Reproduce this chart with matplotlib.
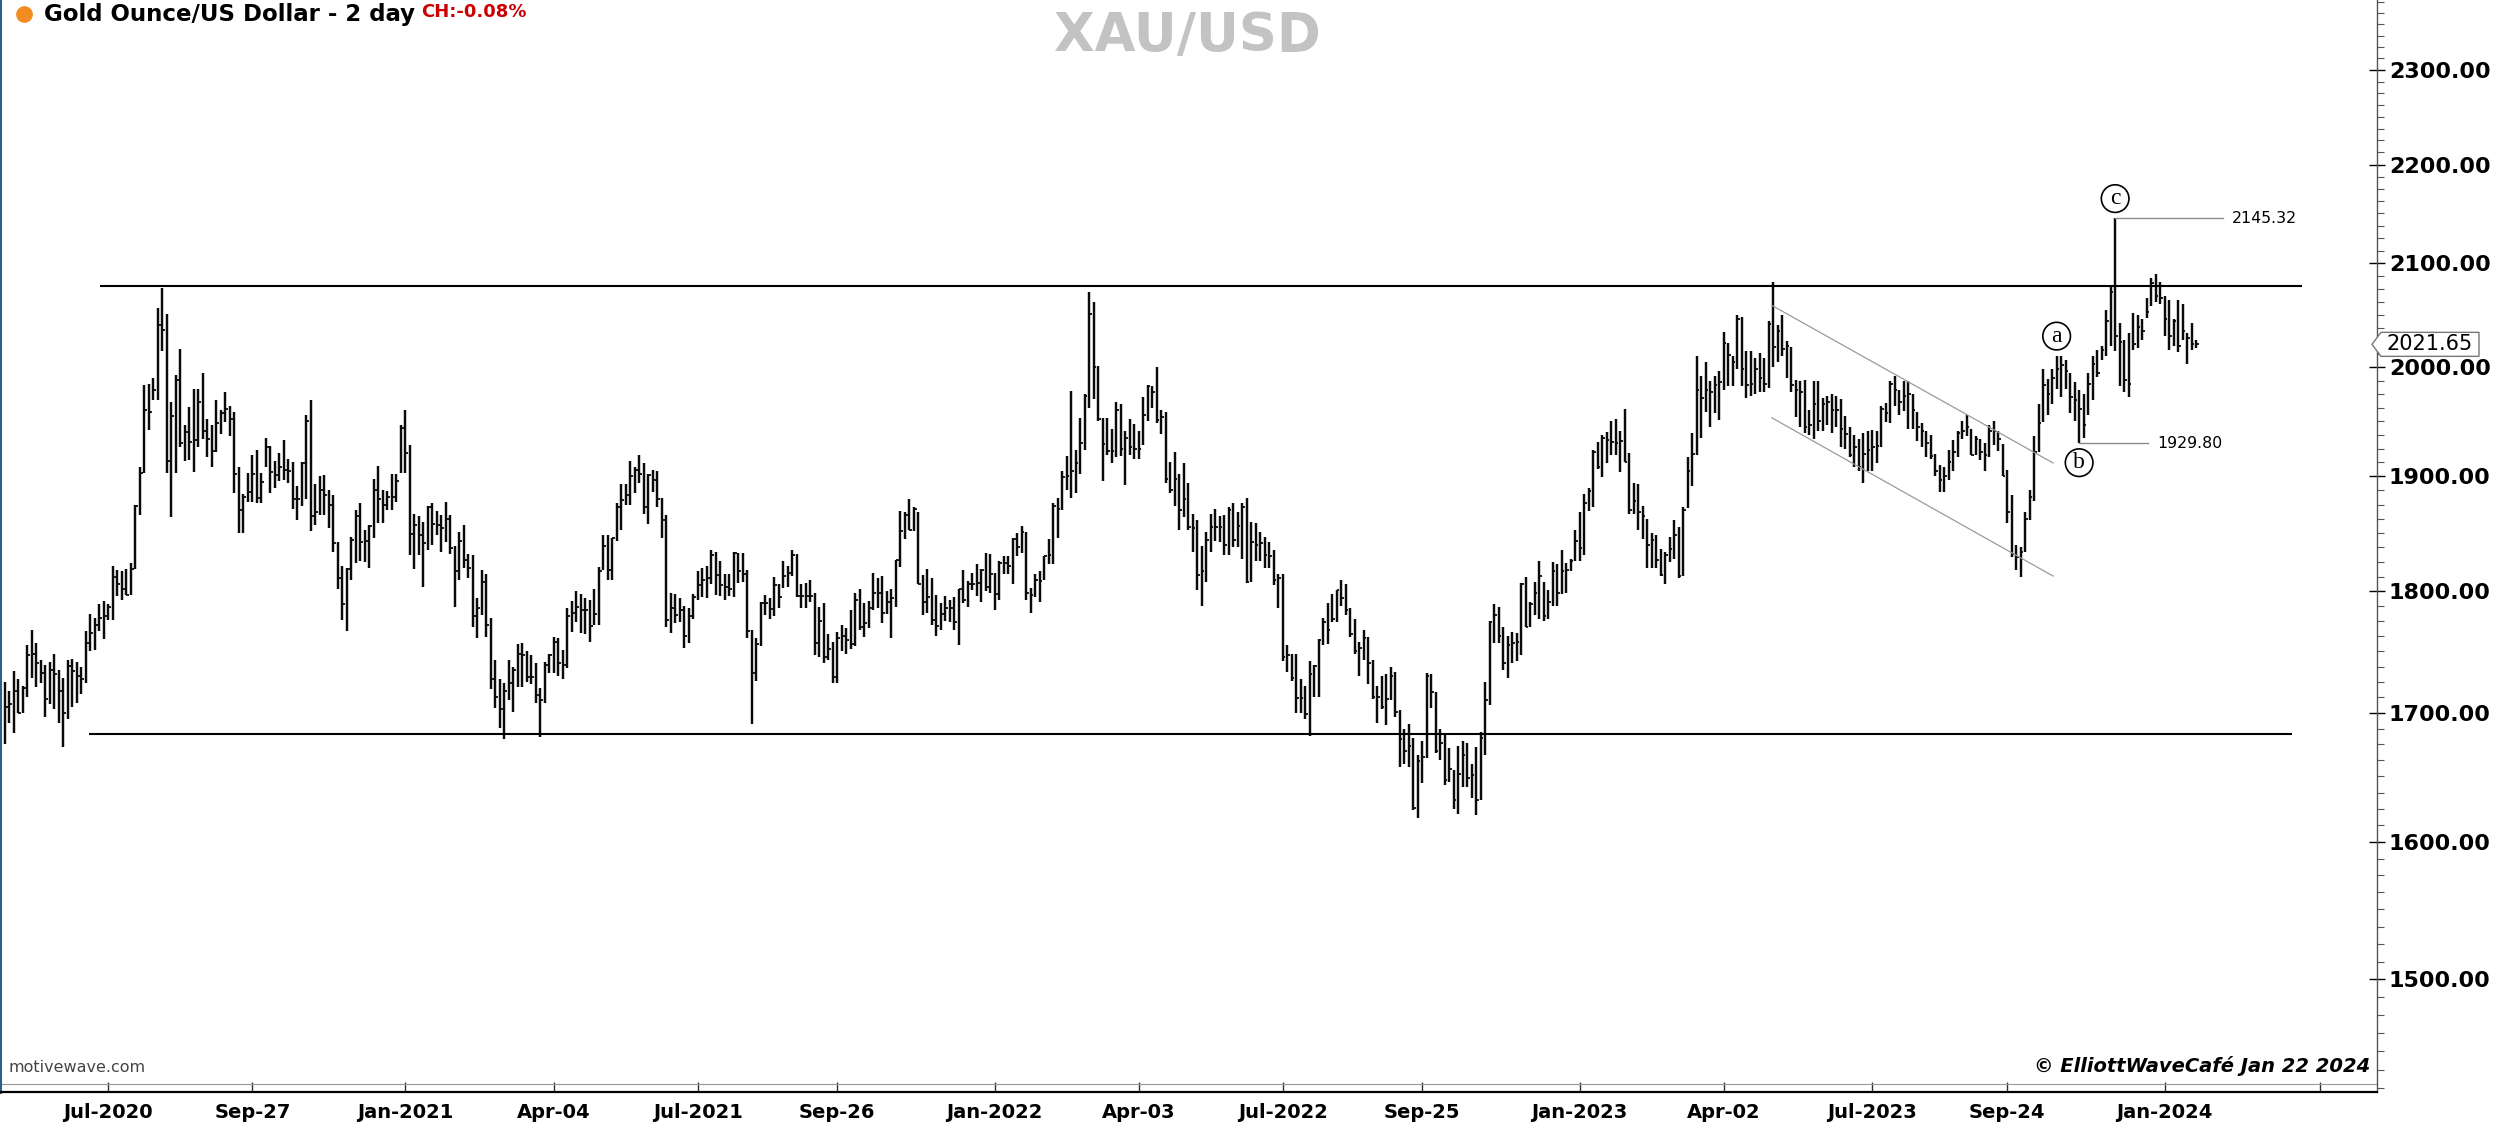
import numpy as np
import pandas as pd
import matplotlib
matplotlib.use('Agg')
import matplotlib.pyplot as plt
import matplotlib.transforms as mtransforms
from matplotlib.ticker import FixedLocator, NullFormatter, FuncFormatter
from matplotlib.lines import Line2D
from matplotlib.patches import Polygon

plt.rcParams['font.family'] = ['DejaVu Sans']

# ---- Data: XAU/USD 2-day bars (high / low / close), last bar 2024-01-22 ----
last_date = '2024-01-22'

highs = [
    1725, 1718, 1734, 1727, 1722, 1755, 1768, 1757, 1743, 1739, 1741, 1748, 1735, 1728, 1743, 1744, 1741, 1737, 1767, 1781,
    1778, 1789, 1792, 1789, 1822, 1818, 1817, 1819, 1824, 1875, 1908, 1983, 1984, 1990, 2056, 2076, 2051, 1968, 1993, 2017,
    1946, 1963, 1980, 1980, 1995, 1952, 1946, 1969, 1960, 1977, 1964, 1958, 1908,
    1884, 1903, 1919, 1924, 1903, 1935, 1927, 1914, 1921, 1933, 1916, 1913, 1891, 1913, 1956, 1969, 1893, 1900, 1901, 1888,
    1883, 1842, 1822, 1820, 1847, 1870, 1876, 1853, 1857, 1898, 1909, 1888, 1887, 1902, 1902, 1946, 1960, 1928, 1867, 1865,
    1860, 1874, 1876, 1869, 1866, 1877, 1866, 1839, 1851, 1857,
    1832, 1831, 1794, 1818, 1815, 1778, 1743, 1727, 1724, 1743, 1737, 1756, 1757, 1750, 1747, 1740, 1720, 1741, 1748, 1762,
    1761, 1751, 1786, 1792, 1800, 1798, 1794, 1793, 1802, 1821, 1848, 1848, 1846, 1876, 1893, 1893, 1914, 1908, 1919, 1912,
    1902, 1906, 1905, 1881, 1866, 1799, 1798, 1794, 1788, 1786, 1798,
    1817, 1820, 1822, 1835, 1834, 1826, 1815, 1815, 1834, 1833, 1833, 1818, 1768, 1761, 1791, 1797, 1794, 1812, 1806, 1826,
    1822, 1835, 1832, 1806, 1807, 1810, 1799, 1787, 1790, 1764, 1758, 1766, 1772, 1769, 1784, 1799, 1802, 1790, 1792, 1816,
    1811, 1813, 1800, 1802, 1827, 1869, 1868, 1880, 1873, 1868,
    1814, 1819, 1811, 1797, 1790, 1796, 1793, 1795, 1802, 1818, 1809, 1816, 1823, 1819, 1833, 1832, 1816, 1826, 1830, 1830,
    1846, 1850, 1856, 1851, 1803, 1815, 1817, 1830, 1845, 1876, 1881, 1905, 1918, 1978, 1924, 1953, 1975, 2072, 2062, 2001,
    1953, 1953, 1943, 1968, 1966, 1941, 1952, 1947, 1941, 1972, 1983, 1982,
    2000, 1960, 1958, 1913, 1922, 1902, 1912, 1894, 1867, 1861, 1839, 1851, 1867, 1871, 1865, 1866, 1873, 1876, 1868, 1876,
    1881, 1860, 1859, 1851, 1847, 1842, 1835, 1815, 1815, 1755, 1748, 1748, 1727, 1722, 1742, 1739, 1760, 1778, 1790, 1798,
    1801, 1810, 1806, 1786, 1777, 1758, 1768, 1762, 1743, 1722, 1730,
    1731, 1737, 1733, 1702, 1687, 1691, 1680, 1667, 1678, 1732, 1731, 1717, 1687, 1684, 1672, 1655, 1674, 1678, 1676, 1660,
    1673, 1685, 1725, 1775, 1789, 1787, 1770, 1763, 1766, 1765, 1807, 1812, 1791, 1808, 1826, 1808, 1801, 1825, 1823, 1835,
    1824, 1828, 1853, 1868, 1884, 1890, 1924, 1931, 1937, 1940, 1950,
    1952, 1941, 1961, 1921, 1894, 1893, 1874, 1862, 1850, 1848, 1836, 1834, 1847, 1861, 1855, 1873, 1917, 1939, 2011, 1992,
    2005, 1987, 1992, 1996, 2033, 2023, 2011, 2050, 2048, 2015, 2015, 2009, 2013, 2009, 2044, 2082, 2040, 2050, 2025, 2019,
    1988, 1987, 1988, 1960, 1987, 1987, 1971, 1973, 1975, 1973, 1970,
    1955, 1945, 1937, 1934, 1939, 1941, 1942, 1941, 1964, 1967, 1987, 1992, 1979, 1987, 1987, 1975, 1958, 1948, 1941, 1937,
    1920, 1910, 1908, 1924, 1933, 1941, 1950, 1956, 1943, 1936, 1934, 1930, 1946, 1950, 1941, 1929, 1906, 1883, 1840, 1838,
    1868, 1888, 1936, 1966, 1998, 1989, 1998, 2011, 2011, 2007,
    1995, 1986, 1979, 1975, 1995, 2011, 2016, 2020, 2055, 2078, 2145.32, 2042, 2026, 2032, 2052, 2050, 2046, 2066, 2086, 2090,
    2082, 2068, 2064, 2046, 2064, 2060, 2032, 2042, 2026,
]

lows = [
    1675, 1692, 1684, 1700, 1700, 1713, 1728, 1721, 1724, 1697, 1707, 1703, 1692, 1673, 1695, 1705, 1708, 1715, 1724, 1750,
    1751, 1767, 1760, 1776, 1776, 1796, 1793, 1797, 1797, 1819, 1866, 1903, 1942, 1969, 1969, 2015, 1903, 1864, 1903, 1926,
    1914, 1915, 1904, 1926, 1934, 1917, 1908, 1922, 1938, 1949, 1936, 1885, 1850,
    1850, 1877, 1877, 1876, 1876, 1908, 1885, 1890, 1896, 1897, 1894, 1871, 1861, 1874, 1880, 1852, 1857, 1866, 1866, 1854,
    1834, 1802, 1776, 1767, 1810, 1824, 1826, 1825, 1820, 1846, 1859, 1859, 1870, 1870, 1877, 1903, 1903, 1831, 1819, 1831,
    1804, 1835, 1840, 1848, 1834, 1842, 1832, 1787, 1810, 1820,
    1811, 1770, 1761, 1780, 1762, 1719, 1704, 1688, 1679, 1710, 1701, 1721, 1721, 1725, 1723, 1708, 1681, 1708, 1732, 1732,
    1730, 1727, 1736, 1766, 1774, 1765, 1764, 1758, 1772, 1772, 1818, 1810, 1810, 1843, 1853, 1875, 1875, 1885, 1894, 1867,
    1858, 1886, 1873, 1846, 1770, 1765, 1773, 1774, 1753, 1757, 1777,
    1793, 1795, 1794, 1806, 1797, 1796, 1793, 1796, 1795, 1807, 1808, 1761, 1691, 1726, 1754, 1780, 1777, 1779, 1786, 1803,
    1804, 1813, 1795, 1786, 1786, 1791, 1747, 1745, 1740, 1743, 1724, 1724, 1750, 1748, 1752, 1754, 1768, 1762, 1769, 1784,
    1786, 1773, 1781, 1761, 1787, 1821, 1845, 1853, 1852, 1806,
    1780, 1782, 1772, 1763, 1768, 1775, 1774, 1768, 1755, 1790, 1787, 1801, 1796, 1791, 1800, 1799, 1784, 1793, 1815, 1815,
    1806, 1830, 1833, 1793, 1782, 1795, 1791, 1810, 1823, 1823, 1846, 1870, 1888, 1881, 1885, 1902, 1924, 1962, 1970, 1950,
    1896, 1919, 1912, 1917, 1918, 1892, 1919, 1916, 1916, 1928, 1950, 1962,
    1948, 1938, 1894, 1885, 1874, 1853, 1864, 1853, 1834, 1801, 1788, 1808, 1834, 1843, 1842, 1831, 1831, 1838, 1838, 1828,
    1807, 1808, 1826, 1826, 1820, 1820, 1805, 1786, 1742, 1733, 1726, 1700, 1700, 1695, 1682, 1713, 1713, 1755, 1756, 1774,
    1774, 1788, 1780, 1762, 1748, 1730, 1743, 1723, 1711, 1692, 1703,
    1690, 1710, 1697, 1657, 1660, 1657, 1624, 1618, 1645, 1664, 1704, 1668, 1663, 1643, 1646, 1625, 1621, 1642, 1642, 1633,
    1620, 1632, 1667, 1706, 1757, 1757, 1735, 1728, 1740, 1742, 1747, 1770, 1770, 1780, 1777, 1775, 1777, 1788, 1788, 1798,
    1799, 1817, 1826, 1826, 1831, 1869, 1873, 1907, 1899, 1912, 1919,
    1919, 1904, 1913, 1867, 1867, 1853, 1845, 1820, 1820, 1820, 1813, 1806, 1825, 1828, 1811, 1813, 1872, 1891, 1919, 1935,
    1958, 1945, 1957, 1951, 1979, 1982, 1982, 1998, 1982, 1971, 1973, 1975, 1977, 1977, 1981, 2000, 2005, 2011, 1990, 1977,
    1954, 1945, 1939, 1937, 1934, 1941, 1941, 1946, 1939, 1945, 1926,
    1925, 1917, 1908, 1905, 1894, 1905, 1905, 1912, 1926, 1949, 1948, 1964, 1956, 1959, 1943, 1943, 1932, 1926, 1917, 1916,
    1900, 1886, 1886, 1897, 1905, 1917, 1934, 1936, 1919, 1919, 1915, 1905, 1917, 1928, 1923, 1900, 1859, 1829, 1818, 1812,
    1834, 1861, 1878, 1922, 1949, 1956, 1966, 1980, 1972, 1980,
    1957, 1950, 1929.80, 1935, 1956, 1969, 1991, 2007, 2011, 2020, 2015, 1982, 1977, 1972, 2016, 2018, 2026, 2047, 2058, 2062,
    2060, 2030, 2016, 2020, 2014, 2026, 2003, 2016, 2018,
]

closes = [
    1705, 1707, 1718, 1700, 1720, 1747, 1748, 1740, 1732, 1711, 1735, 1731, 1718, 1700, 1738, 1734, 1730, 1727, 1757, 1765,
    1772, 1778, 1779, 1787, 1812, 1806, 1802, 1797, 1819, 1874, 1903, 1960, 1958, 1979, 2040, 2035, 1914, 1955, 1988, 1930,
    1940, 1931, 1933, 1968, 1941, 1934, 1923, 1948, 1957, 1961, 1952, 1902, 1870,
    1882, 1886, 1902, 1881, 1895, 1926, 1904, 1901, 1908, 1906, 1905, 1880, 1880, 1912, 1950, 1865, 1868, 1888, 1883, 1875,
    1841, 1811, 1789, 1819, 1844, 1865, 1842, 1843, 1856, 1888, 1880, 1875, 1882, 1882, 1896, 1944, 1921, 1849, 1857, 1848,
    1841, 1873, 1858, 1857, 1854, 1862, 1837, 1817, 1843, 1827,
    1820, 1779, 1786, 1808, 1772, 1727, 1713, 1703, 1718, 1724, 1735, 1748, 1747, 1729, 1729, 1714, 1710, 1739, 1747, 1758,
    1740, 1739, 1779, 1782, 1787, 1784, 1784, 1771, 1781, 1817, 1839, 1818, 1846, 1873, 1879, 1883, 1900, 1906, 1902, 1873,
    1901, 1897, 1880, 1861, 1776, 1786, 1780, 1784, 1763, 1779, 1795,
    1805, 1810, 1811, 1831, 1814, 1805, 1804, 1802, 1833, 1817, 1815, 1767, 1732, 1756, 1790, 1790, 1785, 1805, 1795, 1813,
    1816, 1831, 1796, 1796, 1796, 1796, 1757, 1775, 1745, 1752, 1729, 1761, 1763, 1759, 1756, 1793, 1770, 1773, 1786, 1799,
    1799, 1782, 1791, 1794, 1827, 1852, 1866, 1853, 1871, 1806,
    1791, 1795, 1776, 1771, 1781, 1786, 1786, 1774, 1802, 1793, 1806, 1806, 1807, 1818, 1804, 1815, 1798, 1824, 1824, 1822,
    1845, 1838, 1851, 1799, 1797, 1810, 1809, 1830, 1831, 1874, 1871, 1899, 1900, 1905, 1912, 1930, 1973, 2051, 2000, 1952,
    1929, 1923, 1923, 1960, 1925, 1935, 1926, 1925, 1925, 1956, 1982, 1977,
    1951, 1954, 1898, 1888, 1898, 1870, 1880, 1855, 1854, 1814, 1817, 1844, 1855, 1855, 1855, 1840, 1870, 1844, 1856, 1873,
    1808, 1842, 1840, 1841, 1831, 1830, 1810, 1811, 1745, 1747, 1728, 1712, 1712, 1699, 1731, 1738, 1759, 1774, 1768, 1777,
    1801, 1794, 1784, 1764, 1750, 1753, 1761, 1740, 1713, 1713, 1705,
    1711, 1730, 1701, 1679, 1670, 1674, 1626, 1662, 1665, 1730, 1717, 1670, 1676, 1647, 1656, 1632, 1652, 1667, 1649, 1651,
    1632, 1680, 1710, 1774, 1780, 1763, 1740, 1755, 1757, 1758, 1806, 1770, 1789, 1799, 1813, 1779, 1791, 1817, 1799, 1817,
    1818, 1826, 1843, 1837, 1876, 1887, 1922, 1908, 1935, 1933, 1931,
    1930, 1932, 1913, 1870, 1878, 1868, 1865, 1840, 1844, 1827, 1814, 1831, 1836, 1848, 1813, 1870, 1905, 1920, 1979, 1971,
    1979, 1977, 1983, 1986, 2023, 2012, 2005, 2046, 1998, 1983, 1984, 1998, 1990, 1984, 2041, 2019, 2034, 2017, 2020, 1983,
    1979, 1977, 1945, 1946, 1966, 1950, 1966, 1968, 1960, 1960, 1943,
    1938, 1919, 1926, 1908, 1920, 1924, 1926, 1927, 1961, 1957, 1984, 1979, 1968, 1973, 1975, 1960, 1945, 1941, 1930, 1918,
    1905, 1897, 1900, 1913, 1922, 1939, 1941, 1945, 1919, 1934, 1922, 1919, 1941, 1941, 1934, 1900, 1868, 1832, 1829, 1834,
    1862, 1882, 1922, 1948, 1983, 1975, 1990, 1998, 2002, 1996,
    1972, 1969, 1961, 1946, 1984, 2003, 1995, 2016, 2044, 2072, 2030, 2024, 1988, 1984, 2022, 2038, 2034, 2053, 2081, 2068,
    2066, 2046, 2030, 2044, 2020, 2034, 2028, 2022, 2021.65,
]

tick_dates = ['2020-07-01', '2020-09-27', '2021-01-01', '2021-04-04', '2021-07-01', '2021-09-26',
              '2022-01-01', '2022-04-03', '2022-07-01', '2022-09-25', '2023-01-01', '2023-04-02',
              '2023-07-01', '2023-09-24', '2024-01-01', '2024-04-07']
tick_labels = ['Jul-2020', 'Sep-27', 'Jan-2021', 'Apr-04', 'Jul-2021', 'Sep-26',
               'Jan-2022', 'Apr-03', 'Jul-2022', 'Sep-25', 'Jan-2023', 'Apr-02',
               'Jul-2023', 'Sep-24', 'Jan-2024', '']
price_ticks = [1500, 1600, 1700, 1800, 1900, 2000, 2100, 2200, 2300]

# range lines (price, first bar, last bar)
range_levels = [2078, 1683]
range_from = [21.1, 18.7]
range_to = [510.6, 508.3]

# falling channel drawn on the chart
channel_bars = [392.7, 455.2]
channel_upper = [2059, 1912]
channel_lower = [1953, 1813]

wave_labels = ['a', 'b', 'c']
wave_bars = [456, 461, 469]

# ---- Figure ----
W, H = 2495, 1123
fig = plt.figure(figsize=(W / 100, H / 100), dpi=100)
ax = fig.add_axes([0, 31 / H, 2377 / W, 1092 / H])

n = len(closes)
x = np.arange(n)
dates = pd.date_range(end=last_date, periods=n, freq='2B')

ax.set_yscale('log')
ax.set_ylim(1422.5, 2376.9)
ax.set_xlim(-1.1, 527.2)

ax.vlines(x, lows, highs, color='#0a0a0a', lw=1.75)
ax.hlines(closes, x, x + 0.6, color='#0a0a0a', lw=1.3)

ax.hlines(range_levels, range_from, range_to, color='black', lw=1.5)
ax.plot(channel_bars, channel_upper, color='#9a9a9a', lw=0.9)
ax.plot(channel_bars, channel_lower, color='#9a9a9a', lw=0.9)

# price call-outs for the c top and b low
c_bar, b_bar = wave_bars[2], wave_bars[1]
ax.plot([c_bar, c_bar + 24], [highs[c_bar]] * 2, color='#8c8c8c', lw=1)
ax.text(c_bar + 26, highs[c_bar], f'{highs[c_bar]:.2f}', fontsize=11.3, va='center')
ax.plot([b_bar, b_bar + 15.3], [lows[b_bar]] * 2, color='#8c8c8c', lw=1)
ax.text(b_bar + 17.3, lows[b_bar], f'{lows[b_bar]:.2f}', fontsize=11.3, va='center')

for lab, bi in zip(wave_labels, wave_bars):
    if lab == 'b':
        yv, off = lows[bi], -14
    else:
        yv, off = highs[bi], 14
    ax.annotate(lab, (bi, yv), xytext=(0, off), textcoords='offset points',
                ha='center', va='center', fontsize=17, family='Liberation Serif',
                bbox=dict(boxstyle='circle,pad=0.14', fc='white', ec='black', lw=1.2))

# ---- axes styling ----
def bar_pos(d):
    d = pd.Timestamp(d)
    if d <= dates[-1]:
        return int(dates.searchsorted(d))
    return n - 1 + np.busday_count(dates[-1].date(), d.date()) / 2

ax.set_xticks([bar_pos(d) for d in tick_dates])
ax.set_xticklabels(tick_labels, fontweight='bold', fontsize=14)
ax.tick_params(axis='x', direction='in', length=7, width=1, pad=8, color='#333333')

ax.yaxis.tick_right()
ax.yaxis.set_major_locator(FixedLocator(price_ticks))
ax.yaxis.set_major_formatter(FuncFormatter(lambda v, p: f'{v:.2f}'))
ax.yaxis.set_minor_locator(FixedLocator(np.arange(1425, 2376, 12.5)))
ax.yaxis.set_minor_formatter(NullFormatter())
ax.tick_params(axis='y', which='major', direction='inout', length=11, width=1, labelsize=16, pad=3)
ax.tick_params(axis='y', which='minor', direction='out', length=5, width=0.8, color='#555555')
for t in ax.get_yticklabels():
    t.set_fontweight('bold')

ax.spines['top'].set_visible(False)
ax.spines['left'].set_color('#2d5e8c')
ax.spines['left'].set_linewidth(2.2)
ax.spines['bottom'].set_color('black')
ax.spines['bottom'].set_linewidth(1.6)
ax.spines['right'].set_color('#555555')
ax.spines['right'].set_linewidth(1.0)
ax.plot([0, 1], [8 / 1092] * 2, transform=ax.transAxes, color='#9a9a9a', lw=0.8, clip_on=False)

# last price box on the scale
last = closes[-1]
trans = mtransforms.blended_transform_factory(ax.transAxes, ax.transData)
px, py = trans.transform((1.0, last))
box = Polygon([(px - 5, py), (px + 4, py + 12), (px + 102, py + 12), (px + 102, py - 12), (px + 4, py - 12)],
              closed=True, transform=mtransforms.IdentityTransform(), fc='white', ec='#777777', lw=1, zorder=5)
fig.add_artist(box)
fig.text(px + 53, py, f'{last:.2f}', transform=mtransforms.IdentityTransform(),
         ha='center', va='center', fontsize=15, zorder=6)

# ---- header / footer texts ----
fig.add_artist(Line2D([24 / W], [1 - 14 / H], marker='o', ms=11, color='#f28c1e',
                      transform=fig.transFigure))
fig.text(44 / W, 1 - 15 / H, 'Gold Ounce/US Dollar - 2 day', fontsize=16.5, fontweight='bold', va='center')
fig.text(421 / W, 1 - 12 / H, 'CH:-0.08%', fontsize=13, fontweight='bold', color='#cc0000', va='center')
fig.text(1187 / W, 1 - 36 / H, 'XAU/USD', fontsize=38, fontweight='bold', color='#c3c3c3',
         ha='center', va='center')
fig.text(8 / W, 1 - 1068 / H, 'motivewave.com', fontsize=11.5, color='#444444', va='center')
fig.text(2370 / W, 1 - 1066 / H, '\u00a9 ElliottWaveCaf\u00e9 Jan 22 2024', fontsize=14,
         fontweight='bold', style='italic', ha='right', va='center')

fig.savefig('out.png', dpi=100, facecolor='white')
